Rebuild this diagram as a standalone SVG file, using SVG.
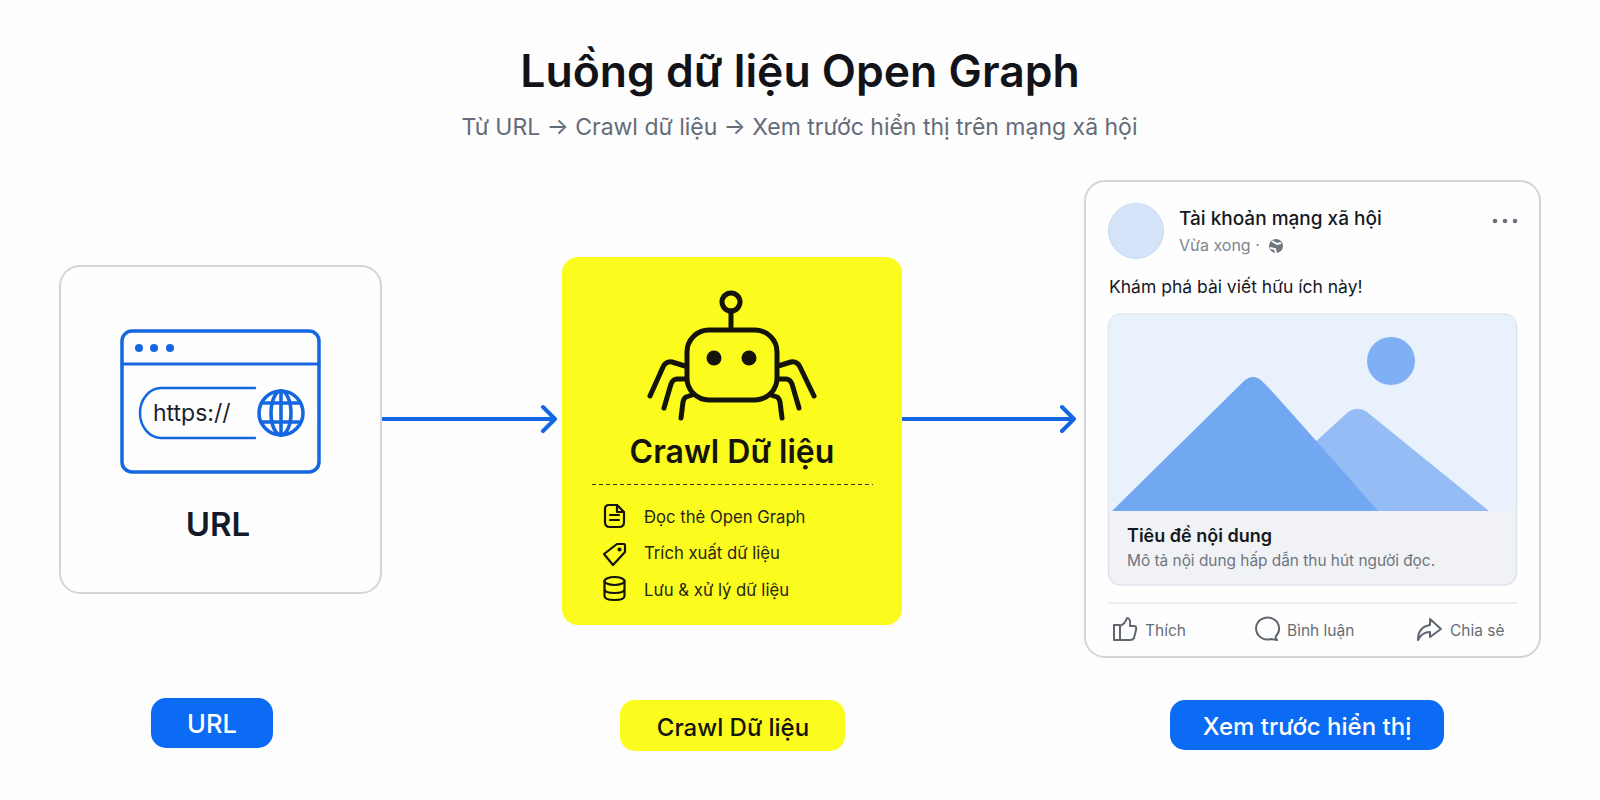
<svg xmlns="http://www.w3.org/2000/svg" width="1600" height="800" viewBox="0 0 1600 800">
  <style>
    text { font-family: Inter, "Noto Sans", "Liberation Sans", sans-serif; }
    .card { fill: #fefefe; stroke: #d3d5da; stroke-width: 2; }
    .blue { fill: none; stroke: #1467e0; stroke-linecap: round; stroke-linejoin: round; }
    .ink { fill: none; stroke: #14140a; stroke-linecap: round; stroke-linejoin: round; }
    .grey { fill: none; stroke: #5f6670; stroke-width: 2; stroke-linecap: round; stroke-linejoin: round; }
    .item { font-size: 16.700px; fill: #26261a; }
    .act { font-size: 15.500px; fill: #666c76; }
    .arrow { fill: none; stroke: #1467e0; stroke-width: 4; stroke-linecap: round; stroke-linejoin: round; }
    .pill { font-size: 24px; font-weight: 500; text-anchor: middle; }
  </style>
  <rect width="1600" height="800" fill="#fdfdfd"/>

  <g id="heading">
    <text x="800" y="87" text-anchor="middle" font-size="44.500" font-weight="600" fill="#111318">Luồng dữ liệu Open Graph</text>
    <text x="799.500" y="135" text-anchor="middle" font-size="23" fill="#646b78">Từ URL → Crawl dữ liệu → Xem trước hiển thị trên mạng xã hội</text>
  </g>

  <g id="connectors">
    <path class="arrow" d="M383 419H555M543 407L555 419L543 431"/>
    <path class="arrow" d="M903 419H1074M1062 407L1074 419L1062 431"/>
  </g>

  <g id="node-url">
    <rect class="card" x="60" y="266" width="321" height="327" rx="20"/>
    <rect class="blue" x="122" y="331" width="197" height="141" rx="10" stroke-width="3.500"/>
    <path class="blue" d="M122 364H319" stroke-width="3"/>
    <g fill="#1467e0"><circle cx="139" cy="348" r="4"/><circle cx="154" cy="348" r="4"/><circle cx="170" cy="348" r="4"/></g>
    <path class="blue" d="M255 388H161A21 25 0 0 0 140 413A21 25 0 0 0 161 438H255" stroke-width="2.500"/>
    <text x="153" y="421" font-size="23" fill="#1c222c">https://</text>
    <g class="blue" stroke-width="3.600">
      <circle cx="281" cy="413" r="22"/>
      <ellipse cx="281" cy="413" rx="10" ry="22"/>
      <path d="M281 391V435M262 403H300M262 422H300"/>
    </g>
    <text x="218" y="536" text-anchor="middle" font-size="33" font-weight="600" fill="#141a2a">URL</text>
  </g>

  <g id="node-crawl">
    <rect x="562" y="257" width="340" height="368" rx="16" fill="#fbfb1e"/>
    <g class="ink" stroke-width="5">
      <circle cx="731" cy="302" r="9"/>
      <path d="M731 311V329"/>
      <rect x="687" y="330" width="90" height="70" rx="22"/>
      <path d="M685 366L672 362Q666 361 663 367L650 396"/>
      <path d="M685 379H677Q673 379 671 384L664 408"/>
      <path d="M692 395L686 397Q684 398 683 402L681 418"/>
      <path d="M778 366L791 362Q797 361 800 367L814 396"/>
      <path d="M778 379H786Q790 379 792 384L799 408"/>
      <path d="M771 395L777 397Q779 398 780 402L782 418"/>
    </g>
    <circle cx="714" cy="358" r="7.500" fill="#14140a"/>
    <circle cx="749" cy="358" r="7.500" fill="#14140a"/>
    <text x="732" y="463" text-anchor="middle" font-size="32" font-weight="600" fill="#14140a">Crawl Dữ liệu</text>
    <path d="M592 484.500H873" stroke="#3a3a20" stroke-width="1.200" stroke-dasharray="4 3" fill="none"/>

    <g class="ink" stroke-width="2.200">
      <path d="M609 505H617L624 512V522Q624 527 619 527H610Q605 527 605 522V509Q605 505 609 505Z"/>
      <path d="M617 505V512H624M610 515H619M610 520H619"/>
      <path d="M604 554L617 544H624Q625 544 625 546V552L613 565Z"/>
      <circle cx="619.500" cy="549.500" r="1" fill="#14140a"/>
      <ellipse cx="614.500" cy="581" rx="10" ry="4"/>
      <path d="M604.500 581V596Q604.500 600 614.500 600Q624.500 600 624.500 596V581M604.500 589Q604.500 593 614.500 593Q624.500 593 624.500 589"/>
    </g>
    <text class="item" x="644" y="523">Đọc thẻ Open Graph</text>
    <text class="item" x="644" y="559">Trích xuất dữ liệu</text>
    <text class="item" x="644" y="596">Lưu &amp; xử lý dữ liệu</text>
  </g>

  <g id="node-preview">
    <rect class="card" x="1085" y="181" width="455" height="476" rx="20"/>
    <circle cx="1136" cy="231" r="27.500" fill="#d6e4fa" stroke="#c9d8ef" stroke-width="1"/>
    <text x="1179" y="225" font-size="19" font-weight="500" fill="#15181e">Tài khoản mạng xã hội</text>
    <text x="1179" y="251" font-size="16" fill="#80868f">Vừa xong ·</text>
    <circle cx="1276" cy="246" r="7" fill="#6f7680"/>
    <path d="M1272 241L1277 244L1281 243M1270 248L1275 249L1276 253" fill="none" stroke="#fdfdfd" stroke-width="2"/>
    <g fill="#6a7078"><circle cx="1495" cy="221" r="2.300"/><circle cx="1505" cy="221" r="2.300"/><circle cx="1515" cy="221" r="2.300"/></g>
    <text x="1109" y="293" font-size="17.500" fill="#15181e">Khám phá bài viết hữu ích này!</text>

    <rect x="1108.500" y="314" width="408" height="271" rx="12" fill="#f0f2f6" stroke="#dfe4ec" stroke-width="1.500"/>
    <path d="M1109 511V326Q1109 314.800 1120 314.800H1505Q1516 314.800 1516 326V511Z" fill="#e9f1fc"/>
    <circle cx="1391" cy="361" r="24" fill="#7fb0f3"/>
    <path d="M1240 511L1347 413Q1357 405 1367 412L1489 511Z" fill="#96bcf5"/>
    <path d="M1112 511L1244 381Q1253 373 1262 381Q1268 386 1378 511Z" fill="#72a8f2"/>
    <text x="1127" y="542" font-size="18" font-weight="600" fill="#15181e">Tiêu đề nội dung</text>
    <text x="1127" y="566" font-size="15.400" fill="#6f757e">Mô tả nội dung hấp dẫn thu hút người đọc.</text>
    <path d="M1108 603H1517" stroke="#e6e7ea" stroke-width="1.500" fill="none"/>

    <path class="grey" d="M1114 625H1120V640H1114ZM1120 626Q1125 624 1127 618Q1131 618 1130 626H1134Q1137 626 1136 630L1134 638Q1133 640 1130 640H1120"/>
    <text class="act" x="1145" y="636">Thích</text>
    <path class="grey" d="M1276 636A11.500 11 0 1 0 1271 639L1277 640Q1275 638 1276 636Z"/>
    <text class="act" x="1287" y="636">Bình luận</text>
    <path class="grey" d="M1430 619L1441 629L1430 637V632Q1422 632 1418 640Q1418 627 1430 625Z"/>
    <text class="act" x="1450" y="636">Chia sẻ</text>
  </g>

  <g id="pill-url">
    <rect x="151" y="698" width="122" height="50" rx="15" fill="#0b6bf5"/>
    <text class="pill" x="212" y="733" fill="#fff" style="font-size:25.500px">URL</text>
  </g>
  <g id="pill-crawl">
    <rect x="620" y="700" width="225" height="51" rx="15" fill="#fbfb1e"/>
    <text class="pill" x="733" y="736" fill="#14140a">Crawl Dữ liệu</text>
  </g>
  <g id="pill-preview">
    <rect x="1170" y="700" width="274" height="50" rx="15" fill="#0b6bf5"/>
    <text class="pill" x="1307" y="735" fill="#fff">Xem trước hiển thị</text>
  </g>
</svg>
